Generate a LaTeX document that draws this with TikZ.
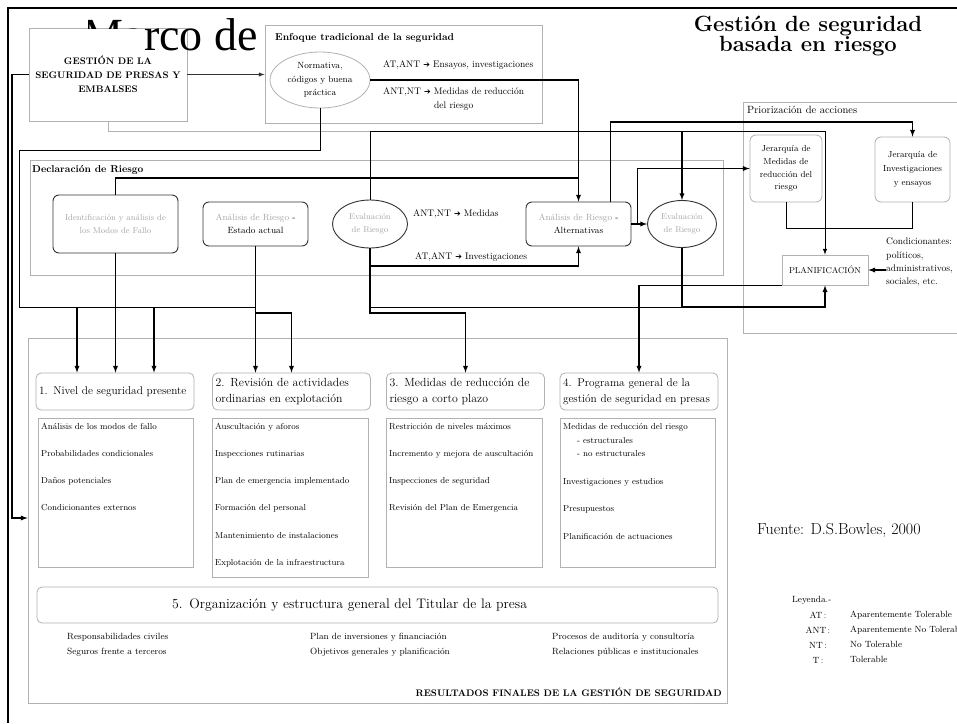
\documentclass[tikz,border=0pt]{standalone}
\usepackage{fontspec}
\newfontfamily\titlefont{Liberation Serif}
\newfontfamily\symfont{DejaVu Sans}
\usetikzlibrary{shapes.geometric}
\newcommand{\fsz}[2]{\fontsize{#1}{#2}\selectfont}
\newcommand{\tip}{ {\symfont\fontsize{8}{8}\selectfont ➔} }

\begin{document}
\begin{tikzpicture}[x=1pt,y=-1pt,>=latex,
  panel/.style={draw=gray!60,line width=0.8pt,fill=white},
  card/.style={draw=gray!60,line width=0.8pt,fill=white,rounded corners=5pt,align=left,text width=152pt,inner xsep=3pt,font=\fsz{11.8}{16.5}},
  sheet/.style={draw=gray!60,line width=0.7pt,fill=white},
  proc/.style={draw=black!80,line width=0.9pt,fill=white,rounded corners=6pt,align=center,text=gray!70,font=\fsz{9}{13}},
  eval/.style={ellipse,draw=black!80,line width=0.9pt,fill=white,align=center,text=gray!70,inner sep=0pt,font=\fsz{8.5}{13}},
  jer/.style={draw=gray!60,line width=0.8pt,fill=white,rounded corners=6pt,align=center},
  wire/.style={line width=1.3pt},
  fine/.style={line width=0.7pt},
  txt/.style={anchor=west,inner sep=0pt,text height=6pt,text depth=2pt},
  item/.style={txt,font=\fsz{8.7}{10}}]

\clip (0,0) rectangle (957,723);
\draw[line width=2.2pt] (957,8) -- (8,8) -- (8,723);

\node[panel,minimum width=158,minimum height=93,align=center,font=\bfseries\fsz{9.5}{14}] (g) at (108,74.5) {GESTIÓN DE LA\\SEGURIDAD DE PRESAS Y\\EMBALSES};
\begin{scope}
\clip (88,0) rectangle (144,28) (144,0) rectangle (265,60);
\node[anchor=base east,inner sep=0pt,font=\titlefont\fsz{46}{46}] (ttl) at (258,50) {3. Marco de};
\end{scope}
\node[align=center,inner sep=0pt,font=\bfseries\fsz{22}{15}] (tt) at (808,36) {Gestión de seguridad\\basada en riesgo};

\node[panel,minimum width=277,minimum height=98] (enf) at (403.5,74) {};
\node[txt,font=\bfseries\fsz{10}{12}] (enft) at (275,38) {Enfoque tradicional de la seguridad};
\node[ellipse,draw=gray!60,line width=0.8pt,minimum width=100,minimum height=56,align=center,inner sep=0pt,font=\fsz{9}{13.5}] (norm) at (320,80) {Normativa,\\códigos y buena\\práctica};
\node[txt,font=\fsz{9.5}{12}] (e1) at (383,65) {AT,ANT\tip Ensayos, investigaciones};
\node[txt,font=\fsz{9.5}{12}] (e2) at (383,92) {ANT,NT\tip Medidas de reducción};
\node[txt,font=\fsz{9.5}{12}] (e3) at (434,106) {del riesgo};

\node[panel,minimum width=693,minimum height=115] (decl) at (376.5,217.5) {};
\node[txt,font=\bfseries\fsz{10}{12}] (declt) at (32,170) {Declaración de Riesgo};
\node[proc,minimum width=125,minimum height=58,font=\fsz{8.5}{13}] (ident) at (115.5,224) {Identificación y análisis de\\los Modos de Fallo};
\node[proc,minimum width=105,minimum height=44] (act) at (255.5,224) {Análisis de Riesgo \textcolor{black}{-}\\\textcolor{black}{Estado actual}};
\node[eval,minimum width=75,minimum height=48] (ev1) at (370,224) {Evaluación\\de Riesgo};
\node[proc,minimum width=105,minimum height=44] (alt) at (578.5,224) {Análisis de Riesgo \textcolor{black}{-}\\\textcolor{black}{Alternativas}};
\node[eval,minimum width=69,minimum height=47] (ev2) at (682,224) {Evaluación\\de Riesgo};
\node[txt,font=\fsz{9.5}{12}] (m1) at (413,214) {ANT,NT\tip Medidas};
\node[txt,font=\fsz{9.5}{12}] (m2) at (415,257) {AT,ANT\tip Investigaciones};

\node[panel,minimum width=227,minimum height=231] (prio) at (856.5,217.5) {};
\node[txt,font=\fsz{10.5}{12}] (priot) at (747,111) {Priorización de acciones};
\node[jer,font=\fsz{8.8}{12.7},minimum width=72,minimum height=67] (jmed) at (786,168.5) {Jerarquía de\\Medidas de\\reducción del\\riesgo};
\node[jer,font=\fsz{8.8}{14},minimum width=75,minimum height=65] (jinv) at (912.5,169.5) {Jerarquía de\\Investigaciones\\y ensayos};
\node[sheet,minimum width=86,minimum height=30,font=\fsz{8.5}{10}] (plan) at (825,270) {PLANIFICACIÓN};
\node[anchor=north west,inner sep=0pt,align=left,font=\fsz{9.5}{13.3}] (cond) at (886,238) {Condicionantes:\\políticos,\\administrativos,\\sociales, etc.};

\node[panel,minimum width=699,minimum height=365] (res) at (377.5,520.5) {};
\node[anchor=east,inner sep=0pt,font=\bfseries\fsz{9.5}{12}] (rest) at (722,692) {RESULTADOS FINALES DE LA GESTIÓN DE SEGURIDAD};
\node[card,minimum height=37,font=\fsz{11.3}{16.5}] (h1) at (115,391.5) {1. Nivel de seguridad presente};
\node[card,minimum height=37] (h2) at (291.5,391.5) {2. Revisión de actividades\\ordinarias en explotación};
\node[card,minimum height=37] (h3) at (465.5,391.5) {3. Medidas de reducción de\\riesgo a corto plazo};
\node[card,minimum height=37,font=\fsz{11.3}{16.5}] (h4) at (639,391.5) {4. Programa general de la\\gestión de seguridad en presas};
\node[sheet,minimum width=155,minimum height=149] (c1) at (115.5,492.5) {};
\node[sheet,minimum width=156,minimum height=159] (c2) at (290,497.5) {};
\node[sheet,minimum width=156,minimum height=149] (c3) at (464,492.5) {};
\node[sheet,minimum width=155,minimum height=149] (c4) at (637.5,492.5) {};
\foreach \t [count=\i] in {Análisis de los modos de fallo,Probabilidades condicionales,Daños potenciales,Condicionantes externos}
  \node[item] (a\i) at (41,{427+27.3*(\i-1)}) {\t};
\foreach \t [count=\i] in {Auscultación y aforos,Inspecciones rutinarias,Plan de emergencia implementado,Formación del personal,Mantenimiento de instalaciones,Explotación de la infraestructura}
  \node[item] (b\i) at (215,{427+27.3*(\i-1)}) {\t};
\foreach \t [count=\i] in {Restricción de niveles máximos,Incremento y mejora de auscultación,Inspecciones de seguridad,Revisión del Plan de Emergencia}
  \node[item] (d\i) at (389,{427+27.3*(\i-1)}) {\t};
\node[item] (f1) at (563,427) {Medidas de reducción del riesgo};
\node[item] (f2) at (577,441) {- estructurales};
\node[item] (f3) at (577,454) {- no estructurales};
\node[item] (f4) at (563,482) {Investigaciones y estudios};
\node[item] (f5) at (563,509) {Presupuestos};
\node[item] (f6) at (563,537) {Planificación de actuaciones};
\node[card,text width=675pt,minimum height=36,font=\fsz{13.8}{16}] (org) at (377.5,605) {\hspace*{132pt}5. Organización y estructura general del Titular de la presa};
\node[txt,font=\fsz{9}{11}] (o1) at (67,637) {Responsabilidades civiles};
\node[txt,font=\fsz{9}{11}] (o2) at (67,652) {Seguros frente a terceros};
\node[txt,font=\fsz{9}{11}] (o3) at (310,637) {Plan de inversiones y financiación};
\node[txt,font=\fsz{9}{11}] (o4) at (310,652) {Objetivos generales y planificación};
\node[txt,font=\fsz{9}{11}] (o5) at (552,637) {Procesos de auditoría y consultoría};
\node[txt,font=\fsz{9}{11}] (o6) at (552,652) {Relaciones públicas e institucionales};

\node[txt,font=\fsz{16}{18}] (src) at (757,532) {Fuente: D.S.Bowles, 2000};
\node[txt,font=\fsz{9}{11}] (ley) at (792,600) {Leyenda.-};
\foreach \a/\b [count=\i] in {AT/Aparentemente Tolerable,ANT/Aparentemente No Tolerable,NT/No Tolerable,T/Tolerable} {
  \node[inner sep=0pt,font=\fsz{9}{11}] (k\i) at (818,{600+15*\i}) {\a\,:};
  \node[txt,font=\fsz{9}{11}] (v\i) at (850,{600+15*\i}) {\b};
}

\coordinate (yI) at (0,122);
\coordinate (yG) at (0,131);
\coordinate (yM) at (19,150);
\coordinate (yD) at (0,178);
\coordinate (yJ) at (0,228);
\coordinate (yL) at (0,266);
\coordinate (yR) at (0,307);
\coordinate (yE) at (0,313);
\coordinate (lft) at (12,518);
\coordinate (p1) at ([xshift=-38pt]h1.north);
\coordinate (p2) at ([xshift=39pt]h1.north);

\draw[->,line width=1pt,black!80] (g.east) -- (g.east -| enf.west);
\draw[->,wire] (g.west) -| (lft) -- (lft -| res.west);
\draw[gray!60,line width=0.8pt] (g.south) |- (ev1.north |- yG);
\draw[->,line width=1pt] (ev1.north) -- (ev1.north |- yG) -| (plan.north);
\draw[->,wire] (ev2.north |- yG) -- (ev2.north);
\draw[->,wire] (norm.east) -| (alt.north);
\draw[wire] (ident.north) |- (alt.north |- yD);
\draw[fine] (norm.south) |- (yM) -- (yM |- yR) -- (act.south |- yR);
\draw[fine] (ev1.south |- yR) -- (ev2.south |- yR);
\draw[->,wire] (p1 |- yR) -- (p1);
\draw[->,wire] (p2 |- yR) -- (p2);
\draw[->,wire] (ident.south) -- (ident.south |- h1.north);
\draw[->,wire] (act.south) -- (act.south |- h2.north);
\draw[->,wire] (act.south |- yE) -| (h2.north);
\draw[->,wire] (ev1.south) |- (alt.south |- yL) -- (alt.south);
\draw[->,wire] (ev1.south) -- (ev1.south |- yE) -| (h3.north);
\draw[->,wire] (alt.east) -- (ev2.west);
\draw[->,wire] ([xshift=6pt]alt.east) |- (jmed.west);
\draw[->,wire] ([xshift=32pt]alt.north) |- (jinv.north |- yI) -- (jinv.north);
\draw[->,wire] (ev2.south) |- (plan.south |- yR) -- (plan.south);
\draw[->,wire] (plan.south west) -| (h4.north);
\draw[fine] (jmed.south) |- (jinv.south |- yJ) -- (jinv.south);
\draw[->,wire] (plan.east -| cond.west) -- (plan.east);
\end{tikzpicture}
\end{document}
